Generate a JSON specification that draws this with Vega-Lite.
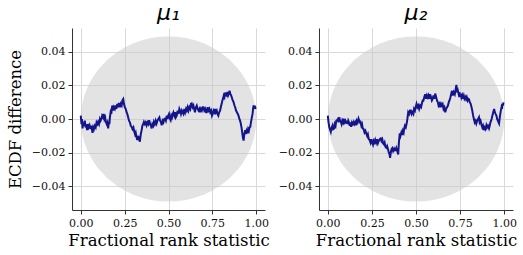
{
  "$schema": "https://vega.github.io/schema/vega-lite/v6.json",
  "padding": {"left": 7, "top": 2, "right": 5, "bottom": 1},
  "spacing": 8,
  "config": {
    "view": {"stroke": null},
    "font": "DejaVu Serif",
    "axis": {"labelFont": "DejaVu Serif", "labelFontSize": 11, "labelColor": "#111", "titleFont": "DejaVu Serif", "titleFontSize": 16.5, "titleFontWeight": "normal", "titleColor": "#000", "gridColor": "#d9d9d9", "gridWidth": 1, "domainColor": "#333", "tickColor": "#333", "tickSize": 4, "labelPadding": 3, "labelFlush": false},
    "title": {"font": "DejaVu Sans", "fontSize": 22, "fontStyle": "italic", "fontWeight": "normal", "color": "#000", "offset": 3}
  },
  "datasets": {
    "env": [
      {"x": 0, "lo": 0, "hi": 0},
      {"x": 0.002, "lo": -0.00438, "hi": 0.00438},
      {"x": 0.005, "lo": -0.00691, "hi": 0.00691},
      {"x": 0.01, "lo": -0.00975, "hi": 0.00975},
      {"x": 0.02, "lo": -0.01372, "hi": 0.01372},
      {"x": 0.035, "lo": -0.01801, "hi": 0.01801},
      {"x": 0.05, "lo": -0.02136, "hi": 0.02136},
      {"x": 0.075, "lo": -0.02581, "hi": 0.02581},
      {"x": 0.1, "lo": -0.0294, "hi": 0.0294},
      {"x": 0.15, "lo": -0.03499, "hi": 0.03499},
      {"x": 0.2, "lo": -0.0392, "hi": 0.0392},
      {"x": 0.25, "lo": -0.04244, "hi": 0.04244},
      {"x": 0.3, "lo": -0.04491, "hi": 0.04491},
      {"x": 0.35, "lo": -0.04674, "hi": 0.04674},
      {"x": 0.4, "lo": -0.04801, "hi": 0.04801},
      {"x": 0.45, "lo": -0.04875, "hi": 0.04875},
      {"x": 0.5, "lo": -0.049, "hi": 0.049},
      {"x": 0.55, "lo": -0.04875, "hi": 0.04875},
      {"x": 0.6, "lo": -0.04801, "hi": 0.04801},
      {"x": 0.65, "lo": -0.04674, "hi": 0.04674},
      {"x": 0.7, "lo": -0.04491, "hi": 0.04491},
      {"x": 0.75, "lo": -0.04244, "hi": 0.04244},
      {"x": 0.8, "lo": -0.0392, "hi": 0.0392},
      {"x": 0.85, "lo": -0.03499, "hi": 0.03499},
      {"x": 0.9, "lo": -0.0294, "hi": 0.0294},
      {"x": 0.925, "lo": -0.02581, "hi": 0.02581},
      {"x": 0.95, "lo": -0.02136, "hi": 0.02136},
      {"x": 0.965, "lo": -0.01801, "hi": 0.01801},
      {"x": 0.98, "lo": -0.01372, "hi": 0.01372},
      {"x": 0.99, "lo": -0.00975, "hi": 0.00975},
      {"x": 0.995, "lo": -0.00691, "hi": 0.00691},
      {"x": 0.998, "lo": -0.00438, "hi": 0.00438},
      {"x": 1, "lo": 0, "hi": 0}
    ],
    "m1": [
      {"x":0.000,"y":0.002},{"x":0.004,"y":-0.003},{"x":0.007,"y":0.000},{"x":0.010,"y":-0.0056},{"x":0.014,"y":-0.002},{"x":0.018,"y":-0.004},{"x":0.023,"y":-0.001},{"x":0.027,"y":-0.005},{"x":0.031,"y":-0.003},{"x":0.036,"y":-0.0066},{"x":0.040,"y":-0.003},{"x":0.045,"y":-0.005},{"x":0.050,"y":-0.0037},{"x":0.055,"y":-0.006},{"x":0.060,"y":-0.004},{"x":0.067,"y":-0.0082},{"x":0.071,"y":-0.005},{"x":0.075,"y":-0.006},{"x":0.080,"y":-0.004},{"x":0.085,"y":-0.005},{"x":0.090,"y":-0.002},{"x":0.095,"y":-0.003},{"x":0.099,"y":-0.0017},{"x":0.104,"y":-0.003},{"x":0.109,"y":0.000},{"x":0.113,"y":-0.001},{"x":0.118,"y":0.0002},{"x":0.122,"y":0.002},{"x":0.127,"y":0.001},{"x":0.131,"y":0.003},{"x":0.135,"y":0.000},{"x":0.139,"y":0.001},{"x":0.143,"y":-0.0017},{"x":0.148,"y":-0.003},{"x":0.152,"y":-0.002},{"x":0.156,"y":-0.0056},{"x":0.160,"y":-0.002},{"x":0.163,"y":-0.003},{"x":0.166,"y":0.001},{"x":0.170,"y":0.004},{"x":0.174,"y":0.003},{"x":0.178,"y":0.007},{"x":0.181,"y":0.008},{"x":0.185,"y":0.005},{"x":0.189,"y":0.007},{"x":0.194,"y":0.006},{"x":0.198,"y":0.008},{"x":0.203,"y":0.006},{"x":0.208,"y":0.009},{"x":0.212,"y":0.007},{"x":0.217,"y":0.0095},{"x":0.223,"y":0.007},{"x":0.228,"y":0.009},{"x":0.233,"y":0.008},{"x":0.237,"y":0.011},{"x":0.242,"y":0.0118},{"x":0.246,"y":0.009},{"x":0.251,"y":0.007},{"x":0.256,"y":0.006},{"x":0.261,"y":0.004},{"x":0.265,"y":0.003},{"x":0.270,"y":0.001},{"x":0.275,"y":-0.001},{"x":0.280,"y":-0.002},{"x":0.285,"y":-0.004},{"x":0.290,"y":-0.0047},{"x":0.295,"y":-0.006},{"x":0.300,"y":-0.005},{"x":0.305,"y":-0.0076},{"x":0.309,"y":-0.009},{"x":0.313,"y":-0.008},{"x":0.318,"y":-0.011},{"x":0.322,"y":-0.0124},{"x":0.327,"y":-0.010},{"x":0.332,"y":-0.012},{"x":0.337,"y":-0.0134},{"x":0.342,"y":-0.009},{"x":0.347,"y":-0.0066},{"x":0.351,"y":-0.004},{"x":0.356,"y":-0.003},{"x":0.360,"y":-0.0017},{"x":0.365,"y":-0.003},{"x":0.370,"y":-0.002},{"x":0.375,"y":-0.0037},{"x":0.380,"y":-0.002},{"x":0.385,"y":-0.003},{"x":0.390,"y":-0.0008},{"x":0.395,"y":-0.003},{"x":0.400,"y":-0.004},{"x":0.404,"y":-0.0056},{"x":0.408,"y":-0.003},{"x":0.413,"y":-0.004},{"x":0.417,"y":-0.0017},{"x":0.422,"y":-0.003},{"x":0.427,"y":-0.001},{"x":0.432,"y":-0.0027},{"x":0.437,"y":-0.001},{"x":0.442,"y":0.000},{"x":0.448,"y":0.001},{"x":0.452,"y":-0.001},{"x":0.457,"y":-0.002},{"x":0.461,"y":-0.0037},{"x":0.466,"y":-0.001},{"x":0.471,"y":-0.002},{"x":0.476,"y":0.000},{"x":0.480,"y":0.0002},{"x":0.485,"y":-0.001},{"x":0.490,"y":0.002},{"x":0.494,"y":0.000},{"x":0.499,"y":0.002},{"x":0.503,"y":0.003},{"x":0.508,"y":0.000},{"x":0.512,"y":-0.0008},{"x":0.516,"y":0.002},{"x":0.520,"y":0.001},{"x":0.524,"y":0.003},{"x":0.528,"y":0.004},{"x":0.533,"y":0.002},{"x":0.538,"y":0.004},{"x":0.542,"y":0.001},{"x":0.547,"y":0.002},{"x":0.552,"y":0.005},{"x":0.557,"y":0.003},{"x":0.562,"y":0.006},{"x":0.566,"y":0.005},{"x":0.571,"y":0.003},{"x":0.576,"y":0.005},{"x":0.580,"y":0.004},{"x":0.585,"y":0.003},{"x":0.590,"y":0.006},{"x":0.595,"y":0.004},{"x":0.600,"y":0.006},{"x":0.604,"y":0.005},{"x":0.609,"y":0.007},{"x":0.614,"y":0.005},{"x":0.619,"y":0.007},{"x":0.624,"y":0.006},{"x":0.628,"y":0.009},{"x":0.632,"y":0.0093},{"x":0.637,"y":0.007},{"x":0.642,"y":0.008},{"x":0.646,"y":0.006},{"x":0.651,"y":0.004},{"x":0.656,"y":0.007},{"x":0.661,"y":0.008},{"x":0.666,"y":0.006},{"x":0.671,"y":0.005},{"x":0.676,"y":0.006},{"x":0.680,"y":0.004},{"x":0.685,"y":0.006},{"x":0.690,"y":0.005},{"x":0.695,"y":0.007},{"x":0.699,"y":0.007},{"x":0.704,"y":0.005},{"x":0.709,"y":0.006},{"x":0.714,"y":0.004},{"x":0.718,"y":0.004},{"x":0.723,"y":0.007},{"x":0.728,"y":0.005},{"x":0.733,"y":0.006},{"x":0.738,"y":0.004},{"x":0.743,"y":0.005},{"x":0.748,"y":0.002},{"x":0.752,"y":0.003},{"x":0.757,"y":0.005},{"x":0.762,"y":0.004},{"x":0.766,"y":0.006},{"x":0.770,"y":0.004},{"x":0.775,"y":0.005},{"x":0.779,"y":0.003},{"x":0.784,"y":0.002},{"x":0.789,"y":0.004},{"x":0.794,"y":0.005},{"x":0.798,"y":0.007},{"x":0.803,"y":0.009},{"x":0.807,"y":0.011},{"x":0.810,"y":0.0118},{"x":0.815,"y":0.014},{"x":0.819,"y":0.013},{"x":0.823,"y":0.0157},{"x":0.827,"y":0.014},{"x":0.832,"y":0.0138},{"x":0.836,"y":0.016},{"x":0.840,"y":0.014},{"x":0.844,"y":0.015},{"x":0.848,"y":0.0167},{"x":0.852,"y":0.015},{"x":0.857,"y":0.014},{"x":0.861,"y":0.0128},{"x":0.866,"y":0.011},{"x":0.871,"y":0.010},{"x":0.876,"y":0.008},{"x":0.880,"y":0.007},{"x":0.885,"y":0.005},{"x":0.890,"y":0.004},{"x":0.895,"y":0.003},{"x":0.899,"y":0.002},{"x":0.904,"y":0.000},{"x":0.908,"y":-0.001},{"x":0.912,"y":-0.0027},{"x":0.916,"y":-0.005},{"x":0.920,"y":-0.008},{"x":0.924,"y":-0.011},{"x":0.928,"y":-0.0128},{"x":0.932,"y":-0.009},{"x":0.937,"y":-0.0066},{"x":0.941,"y":-0.009},{"x":0.945,"y":-0.007},{"x":0.950,"y":-0.0085},{"x":0.954,"y":-0.006},{"x":0.958,"y":-0.007},{"x":0.962,"y":-0.005},{"x":0.966,"y":-0.0047},{"x":0.970,"y":-0.002},{"x":0.975,"y":0.001},{"x":0.979,"y":0.003},{"x":0.982,"y":0.006},{"x":0.985,"y":0.008},{"x":0.989,"y":0.006},{"x":0.992,"y":0.008},{"x":0.994,"y":0.006},{"x":0.997,"y":0.007}
    ],
    "m2": [
      {"x":0.000,"y":0.002},{"x":0.004,"y":-0.002},{"x":0.008,"y":-0.0047},{"x":0.012,"y":-0.006},{"x":0.017,"y":-0.0076},{"x":0.022,"y":-0.005},{"x":0.027,"y":-0.0037},{"x":0.031,"y":-0.006},{"x":0.036,"y":-0.0056},{"x":0.040,"y":-0.003},{"x":0.044,"y":-0.004},{"x":0.048,"y":-0.001},{"x":0.052,"y":-0.0008},{"x":0.057,"y":0.000},{"x":0.061,"y":-0.002},{"x":0.065,"y":0.001},{"x":0.069,"y":-0.001},{"x":0.074,"y":-0.0017},{"x":0.078,"y":-0.003},{"x":0.082,"y":-0.001},{"x":0.086,"y":-0.002},{"x":0.090,"y":0.0002},{"x":0.094,"y":-0.002},{"x":0.099,"y":-0.001},{"x":0.103,"y":-0.0027},{"x":0.107,"y":-0.001},{"x":0.112,"y":-0.003},{"x":0.116,"y":-0.001},{"x":0.120,"y":-0.002},{"x":0.124,"y":-0.004},{"x":0.128,"y":-0.002},{"x":0.132,"y":-0.0047},{"x":0.137,"y":-0.002},{"x":0.142,"y":-0.003},{"x":0.147,"y":-0.0017},{"x":0.151,"y":-0.003},{"x":0.156,"y":-0.002},{"x":0.160,"y":-0.0037},{"x":0.164,"y":-0.001},{"x":0.169,"y":-0.002},{"x":0.174,"y":0.0002},{"x":0.178,"y":-0.001},{"x":0.182,"y":-0.002},{"x":0.185,"y":-0.0017},{"x":0.190,"y":-0.004},{"x":0.194,"y":-0.003},{"x":0.198,"y":-0.0056},{"x":0.203,"y":-0.006},{"x":0.208,"y":-0.008},{"x":0.213,"y":-0.007},{"x":0.218,"y":-0.0085},{"x":0.223,"y":-0.010},{"x":0.227,"y":-0.009},{"x":0.232,"y":-0.012},{"x":0.237,"y":-0.0124},{"x":0.242,"y":-0.014},{"x":0.247,"y":-0.012},{"x":0.251,"y":-0.014},{"x":0.256,"y":-0.0153},{"x":0.260,"y":-0.013},{"x":0.265,"y":-0.014},{"x":0.269,"y":-0.0124},{"x":0.274,"y":-0.014},{"x":0.279,"y":-0.012},{"x":0.284,"y":-0.0144},{"x":0.289,"y":-0.013},{"x":0.294,"y":-0.012},{"x":0.300,"y":-0.0115},{"x":0.304,"y":-0.013},{"x":0.309,"y":-0.012},{"x":0.313,"y":-0.0144},{"x":0.318,"y":-0.015},{"x":0.322,"y":-0.014},{"x":0.326,"y":-0.0163},{"x":0.331,"y":-0.017},{"x":0.336,"y":-0.016},{"x":0.342,"y":-0.0182},{"x":0.346,"y":-0.020},{"x":0.350,"y":-0.021},{"x":0.353,"y":-0.0231},{"x":0.357,"y":-0.020},{"x":0.361,"y":-0.018},{"x":0.365,"y":-0.0173},{"x":0.370,"y":-0.019},{"x":0.374,"y":-0.018},{"x":0.376,"y":-0.0192},{"x":0.381,"y":-0.017},{"x":0.385,"y":-0.019},{"x":0.389,"y":-0.0173},{"x":0.394,"y":-0.019},{"x":0.399,"y":-0.0211},{"x":0.403,"y":-0.014},{"x":0.408,"y":-0.0085},{"x":0.412,"y":-0.010},{"x":0.417,"y":-0.008},{"x":0.422,"y":-0.0095},{"x":0.426,"y":-0.007},{"x":0.430,"y":-0.008},{"x":0.433,"y":-0.0056},{"x":0.437,"y":-0.004},{"x":0.442,"y":-0.005},{"x":0.447,"y":-0.0027},{"x":0.451,"y":0.000},{"x":0.456,"y":0.004},{"x":0.461,"y":0.003},{"x":0.466,"y":0.005},{"x":0.471,"y":0.005},{"x":0.475,"y":0.003},{"x":0.480,"y":0.004},{"x":0.485,"y":0.003},{"x":0.489,"y":0.006},{"x":0.494,"y":0.005},{"x":0.498,"y":0.007},{"x":0.503,"y":0.009},{"x":0.508,"y":0.007},{"x":0.513,"y":0.008},{"x":0.518,"y":0.006},{"x":0.523,"y":0.008},{"x":0.529,"y":0.007},{"x":0.533,"y":0.009},{"x":0.538,"y":0.011},{"x":0.542,"y":0.0109},{"x":0.547,"y":0.013},{"x":0.552,"y":0.0147},{"x":0.557,"y":0.012},{"x":0.562,"y":0.014},{"x":0.567,"y":0.0128},{"x":0.571,"y":0.014},{"x":0.576,"y":0.012},{"x":0.580,"y":0.0147},{"x":0.585,"y":0.013},{"x":0.590,"y":0.011},{"x":0.594,"y":0.0118},{"x":0.599,"y":0.014},{"x":0.604,"y":0.012},{"x":0.609,"y":0.0151},{"x":0.614,"y":0.013},{"x":0.619,"y":0.011},{"x":0.624,"y":0.0099},{"x":0.628,"y":0.008},{"x":0.633,"y":0.009},{"x":0.637,"y":0.007},{"x":0.642,"y":0.009},{"x":0.646,"y":0.008},{"x":0.651,"y":0.0089},{"x":0.656,"y":0.006},{"x":0.661,"y":0.007},{"x":0.666,"y":0.004},{"x":0.671,"y":0.006},{"x":0.676,"y":0.007},{"x":0.681,"y":0.008},{"x":0.686,"y":0.010},{"x":0.690,"y":0.011},{"x":0.695,"y":0.0128},{"x":0.700,"y":0.015},{"x":0.704,"y":0.0167},{"x":0.709,"y":0.014},{"x":0.714,"y":0.016},{"x":0.720,"y":0.0147},{"x":0.724,"y":0.017},{"x":0.729,"y":0.0202},{"x":0.733,"y":0.016},{"x":0.737,"y":0.017},{"x":0.742,"y":0.0147},{"x":0.746,"y":0.016},{"x":0.750,"y":0.013},{"x":0.754,"y":0.015},{"x":0.758,"y":0.0128},{"x":0.762,"y":0.014},{"x":0.766,"y":0.012},{"x":0.771,"y":0.0138},{"x":0.775,"y":0.012},{"x":0.780,"y":0.013},{"x":0.784,"y":0.0118},{"x":0.788,"y":0.013},{"x":0.793,"y":0.011},{"x":0.797,"y":0.012},{"x":0.800,"y":0.0118},{"x":0.805,"y":0.010},{"x":0.810,"y":0.009},{"x":0.815,"y":0.007},{"x":0.819,"y":0.005},{"x":0.824,"y":0.002},{"x":0.828,"y":0.0002},{"x":0.833,"y":-0.002},{"x":0.838,"y":-0.001},{"x":0.842,"y":-0.0027},{"x":0.847,"y":-0.001},{"x":0.852,"y":0.000},{"x":0.857,"y":0.001},{"x":0.861,"y":-0.002},{"x":0.866,"y":-0.001},{"x":0.872,"y":-0.0037},{"x":0.876,"y":-0.005},{"x":0.880,"y":-0.004},{"x":0.885,"y":-0.0066},{"x":0.889,"y":-0.005},{"x":0.894,"y":-0.006},{"x":0.899,"y":-0.0037},{"x":0.903,"y":-0.005},{"x":0.908,"y":-0.004},{"x":0.914,"y":-0.0056},{"x":0.918,"y":-0.004},{"x":0.922,"y":-0.002},{"x":0.926,"y":-0.001},{"x":0.929,"y":0.0002},{"x":0.933,"y":0.002},{"x":0.938,"y":0.004},{"x":0.943,"y":0.006},{"x":0.947,"y":0.004},{"x":0.951,"y":0.003},{"x":0.956,"y":0.002},{"x":0.960,"y":0.000},{"x":0.964,"y":-0.001},{"x":0.968,"y":-0.002},{"x":0.971,"y":-0.0027},{"x":0.975,"y":0.001},{"x":0.978,"y":0.003},{"x":0.981,"y":0.005},{"x":0.985,"y":0.007},{"x":0.988,"y":0.006},{"x":0.990,"y":0.009},{"x":0.993,"y":0.008},{"x":0.996,"y":0.0099}
    ]
  },
  "hconcat": [
    {
      "width": 193, "height": 182,
      "title": "μ₁",
      "layer": [
        {
          "data": {"name": "env"},
          "mark": {"type": "area", "color": "#c8c8c8", "opacity": 0.5},
          "encoding": {
            "x": {"field": "x", "type": "quantitative", "scale": {"domain": [-0.05, 1.05], "nice": false, "zero": false}, "axis": {"values": [0, 0.25, 0.5, 0.75, 1], "format": ".2f", "title": "Fractional rank statistic", "titlePadding": 4}},
            "y": {"field": "lo", "type": "quantitative", "scale": {"domain": [-0.054, 0.054], "nice": false}, "axis": {"values": [-0.04, -0.02, 0, 0.02, 0.04], "format": ".2f", "title": "ECDF difference", "titlePadding": 8}},
            "y2": {"field": "hi"}
          }
        },
        {
          "data": {"name": "m1"},
          "mark": {"type": "line", "color": "#14148c", "strokeWidth": 2},
          "encoding": {
            "x": {"field": "x", "type": "quantitative"},
            "y": {"field": "y", "type": "quantitative"}
          }
        }
      ]
    },
    {
      "width": 194, "height": 182,
      "title": "μ₂",
      "layer": [
        {
          "data": {"name": "env"},
          "mark": {"type": "area", "color": "#c8c8c8", "opacity": 0.5},
          "encoding": {
            "x": {"field": "x", "type": "quantitative", "scale": {"domain": [-0.05, 1.05], "nice": false, "zero": false}, "axis": {"values": [0, 0.25, 0.5, 0.75, 1], "format": ".2f", "title": "Fractional rank statistic", "titlePadding": 4}},
            "y": {"field": "lo", "type": "quantitative", "scale": {"domain": [-0.054, 0.054], "nice": false}, "axis": {"values": [-0.04, -0.02, 0, 0.02, 0.04], "format": ".2f", "title": null}},
            "y2": {"field": "hi"}
          }
        },
        {
          "data": {"name": "m2"},
          "mark": {"type": "line", "color": "#14148c", "strokeWidth": 2},
          "encoding": {
            "x": {"field": "x", "type": "quantitative"},
            "y": {"field": "y", "type": "quantitative"}
          }
        }
      ]
    }
  ]
}
